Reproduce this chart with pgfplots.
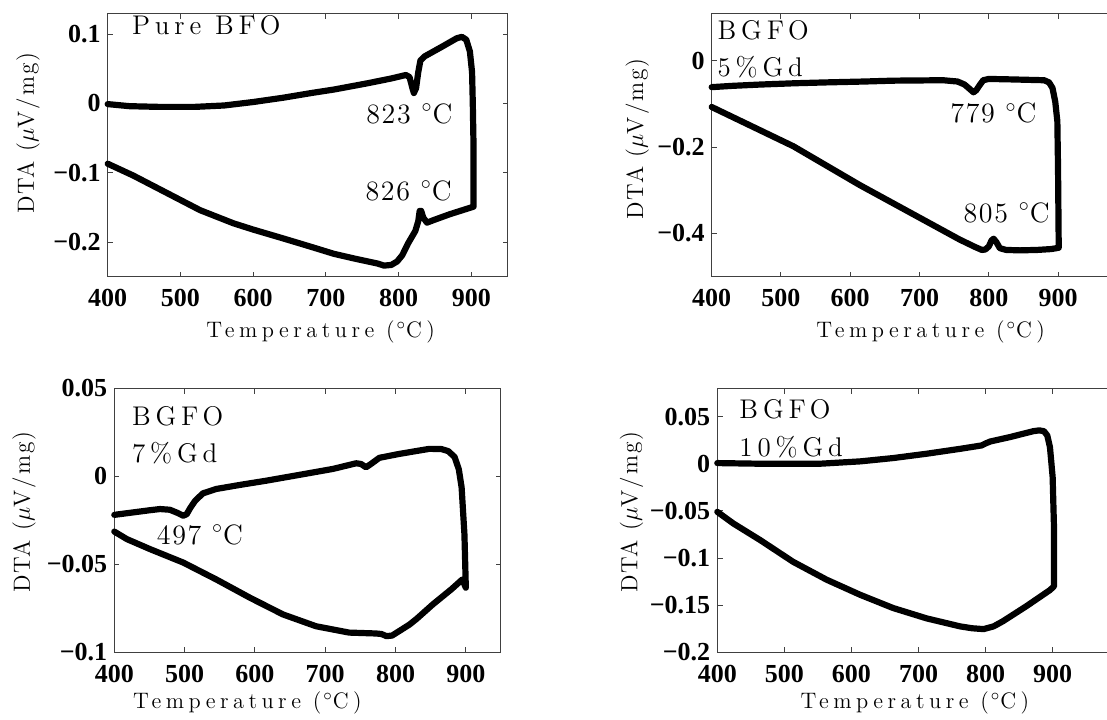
\documentclass[border=0pt]{standalone}
\usepackage{fontspec}
\usepackage{pgfplots}
\pgfplotsset{compat=1.18}
\setmainfont{Latin Modern Roman}
\newfontfamily\tickfont{Liberation Serif}
\newfontfamily\xlabfont{Latin Modern Roman}[LetterSpace=20]
\newfontfamily\ylabfont{Latin Modern Roman}[LetterSpace=8]
\newfontfamily\namefont{Latin Modern Roman}[LetterSpace=18]
\newfontfamily\annfont{Latin Modern Roman}[LetterSpace=6]

\newcommand{\tk}[1]{{\tickfont\bfseries #1}}
\newcommand{\xlab}{{\xlabfont\fontsize{11.2}{13}\selectfont Temperature (\kern1pt$^\circ$C)}}
\newcommand{\ylab}{{\ylabfont\fontsize{11.7}{14}\selectfont DTA ($\mu$V/mg)}}

\pgfplotsset{
  dta/.style={
    scale only axis,
    anchor=south west,
    xmin=400,
    xtick={400,500,600,700,800,900},
    xticklabels={\tk{400},\tk{500},\tk{600},\tk{700},\tk{800},\tk{900}},
    tick label style={font=\tickfont\bfseries\fontsize{13}{15}\selectfont},
    xticklabel style={yshift=-2.8pt},
    tick align=inside,
    major tick length=2.6pt,
    axis line style={black!75, line width=0.5pt},
    every tick/.style={black!75, line width=0.5pt},
    clip=false,
  },
  loop/.style={black, line width=3.1pt, line join=round, line cap=round},
}
\tikzset{
  sample/.style={anchor=base west, inner sep=0pt, font=\namefont\fontsize{13.5}{16}\selectfont},
  peak/.style={anchor=base west, inner sep=0pt, font=\annfont\fontsize{14}{16}\selectfont},
}

\begin{document}
\begin{tikzpicture}[x=1pt,y=1pt]
\useasboundingbox (0,0) rectangle (553.5,359.5);
\clip (0,0) rectangle (553.5,359.5);

% ---- Pure BFO ----
\begin{axis}[dta, at={(53.85pt,221.15pt)}, width=200pt, height=131.7pt,
  xmax=950, ymin=-0.25, ymax=0.13,
  ytick={-0.2,-0.1,0,0.1},
  yticklabels={−0.2,−0.1,0,0.1}]
\addplot[loop] coordinates {
 (400,-0.001) (430,-0.004) (470,-0.005) (520,-0.005) (560,-0.003)
 (600,0.002) (640,0.008) (680,0.015) (711,0.020) (757,0.029)
 (790,0.036) (810,0.041) (815,0.038) (819,0.022) (821,0.015)
 (824,0.022) (827,0.045) (830,0.062) (836,0.068) (860,0.082)
 (880,0.094) (887,0.096) (893,0.092) (898,0.075) (901,0.045)
 (902,0.000) (903,-0.060) (903,-0.149)
 (900,-0.150) (870,-0.160) (849,-0.168) (839,-0.172) (834,-0.165)
 (831,-0.155) (829,-0.155) (827,-0.170) (823,-0.184) (818,-0.193)
 (813,-0.202) (805,-0.219) (798,-0.228) (790,-0.233) (780,-0.234)
 (771,-0.231) (740,-0.224) (711,-0.217) (680,-0.207) (642,-0.195)
 (600,-0.182) (573,-0.173) (527,-0.154) (481,-0.129) (435,-0.104)
 (400,-0.087)};
\node[sample] at (axis cs:433,0.1) {Pure BFO};
\node[peak] at (axis cs:755,-0.0289) {823 $^\circ$C};
\node[peak] at (axis cs:754,-0.1397) {826 $^\circ$C};
\end{axis}

% ---- BGFO 5% Gd ----
\begin{axis}[dta, at={(355.85pt,221.15pt)}, width=207.8pt, height=131.7pt,
  xmax=1000, ymin=-0.5, ymax=0.11,
  ytick={-0.4,-0.2,0},
  yticklabels={−0.4,−0.2,0}]
\addplot[loop] coordinates {
 (400,-0.061) (430,-0.058) (470,-0.055) (520,-0.052) (566,-0.050)
 (620,-0.048) (662,-0.046) (734,-0.045) (755,-0.048) (765,-0.055)
 (773,-0.066) (778,-0.073) (782,-0.068) (787,-0.056) (792,-0.045)
 (800,-0.042) (830,-0.043) (855,-0.044) (880,-0.045) (887,-0.050)
 (892,-0.063) (896,-0.095) (899,-0.140) (900,-0.250) (901,-0.433)
 (890,-0.436) (870,-0.438) (845,-0.439) (825,-0.438) (816,-0.434)
 (811,-0.420) (807,-0.412) (804,-0.416) (800,-0.430) (795,-0.437)
 (790,-0.438) (780,-0.431) (758,-0.414) (710,-0.372) (614,-0.288)
 (518,-0.198) (400,-0.107)};
\node[sample] at (axis cs:408,0.050) {BGFO};
\node[sample] at (axis cs:408,-0.036) {5\%Gd};
\node[peak] at (axis cs:744,-0.144) {779 $^\circ$C};
\node[peak] at (axis cs:763,-0.374) {805 $^\circ$C};
\end{axis}

% ---- BGFO 7% Gd ----
\begin{axis}[dta, at={(57.15pt,33.35pt)}, width=193.35pt, height=132pt,
  xmax=950, ymin=-0.1, ymax=0.05,
  ytick={-0.1,-0.05,0,0.05},
  yticklabels={−0.1,−0.05,0,0.05}]
\addplot[loop] coordinates {
 (400,-0.0219) (427,-0.0205) (450,-0.0193) (465,-0.0186) (479,-0.0190)
 (490,-0.0208) (498,-0.0224) (503,-0.0215) (508,-0.0180) (515,-0.0139)
 (526,-0.0097) (545,-0.0072) (580,-0.0048) (616,-0.0025) (663,0.0008)
 (711,0.0042) (744,0.0074) (751,0.0070) (758,0.0051) (765,0.0070)
 (777,0.0105) (805,0.0127) (848,0.0156) (865,0.0155) (875,0.0143)
 (884,0.0110) (890,0.0040) (894,-0.0063) (898,-0.0329) (900,-0.0633)
 (895,-0.0586) (880,-0.0640) (853,-0.0728) (830,-0.0810) (820,-0.0842)
 (805,-0.0880) (795,-0.0905) (787,-0.0908) (780,-0.0896) (772,-0.0893)
 (734,-0.0888) (687,-0.0852) (640,-0.0785) (593,-0.0690) (545,-0.0586)
 (498,-0.0490) (451,-0.0414) (418,-0.0357) (400,-0.0314)};
\node[sample] at (axis cs:424.7,0.0289) {BGFO};
\node[sample] at (axis cs:424.7,0.0080) {7\%Gd};
\node[peak] at (axis cs:460,-0.0386) {497 $^\circ$C};
\end{axis}

% ---- BGFO 10% Gd ----
\begin{axis}[dta, at={(358.65pt,33.35pt)}, width=201.2pt, height=132pt,
  xmax=1000, ymin=-0.2, ymax=0.08,
  ytick={-0.2,-0.15,-0.1,-0.05,0,0.05},
  yticklabels={−0.2,−0.15,−0.1,−0.05,0,0.05}]
\addplot[loop] coordinates {
 (400,0.0007) (464,0.0000) (553,0.0000) (613,0.0025) (662,0.0060)
 (712,0.0106) (762,0.0158) (794,0.0194) (800,0.0215) (807,0.0236)
 (836,0.0282) (871,0.0345) (880,0.0354) (887,0.0345) (892,0.0300)
 (896,0.0176) (900,-0.0140) (902,-0.0670) (902,-0.1300)
 (896,-0.1340) (861,-0.1510) (826,-0.1670) (812,-0.1725) (797,-0.1754)
 (780,-0.1745) (762,-0.1725) (712,-0.1640) (662,-0.1530) (613,-0.1390)
 (563,-0.1230) (513,-0.1040) (464,-0.0810) (424,-0.0634) (400,-0.0510)};
\node[sample] at (axis cs:432.4,0.0476) {BGFO};
\node[sample] at (axis cs:432.4,0.0077) {10\%Gd};
\end{axis}

% axis titles
\node[rotate=90] at (14,292.85) {\ylab};
\node at (160.35,193.65) {\xlab};
\node[rotate=90] at (318.7,290) {\ylab};
\node at (465.35,193.65) {\xlab};
\node[rotate=90] at (12,103.35) {\ylab};
\node at (123.7,8) {\xlab};
\node[rotate=90] at (315.8,103.35) {\ylab};
\node at (457.5,8) {\xlab};
\end{tikzpicture}
\end{document}
